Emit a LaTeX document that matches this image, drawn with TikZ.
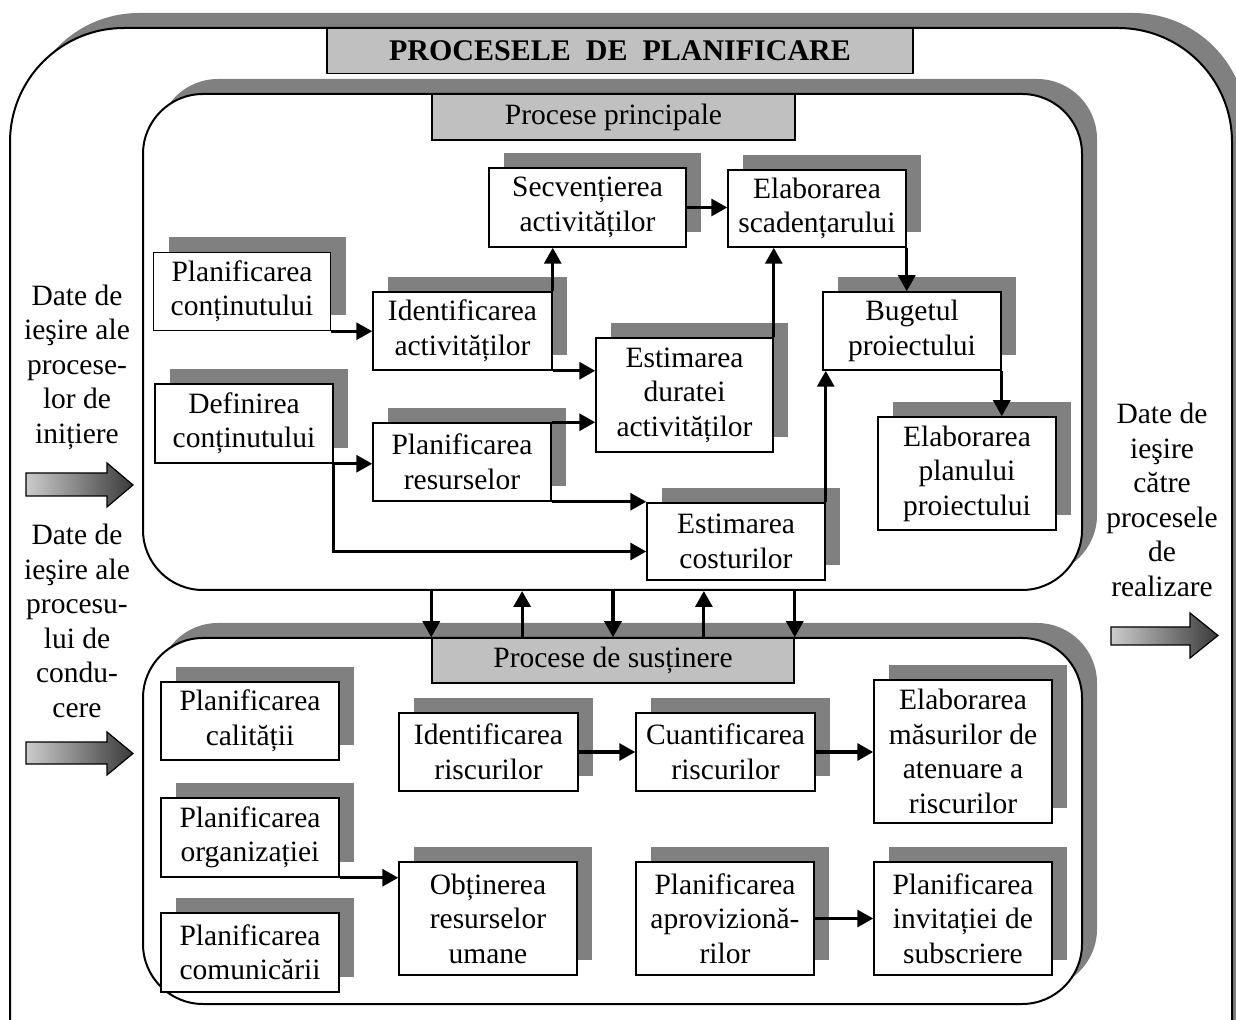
\documentclass[tikz,border=0pt]{standalone}
\usepackage{fontspec}
\setmainfont{Liberation Serif}
\usetikzlibrary{shadows,arrows.meta,calc}
\definecolor{shadowgray}{HTML}{808080}
\definecolor{tabgray}{HTML}{C0C0C0}
\definecolor{flowlight}{HTML}{CCCCCC}
\definecolor{flowdark}{HTML}{3A3A3A}

\begin{document}
\begin{tikzpicture}[x=0.5pt,y=-0.5pt,
  every node/.style={font=\fontsize{14.75}{17.25}\selectfont},
  boxshadow/.style={drop shadow={shadow xshift=7.5pt,shadow yshift=7.5pt,opacity=1,fill=shadowgray}},
  sz/.style 2 args={minimum width=#1*0.5pt,minimum height=#2*0.5pt},
  box/.style={draw,line width=0.75pt,fill=white,align=center,inner sep=0pt,boxshadow},
  panel/.style={draw,line width=1pt,fill=white,inner sep=0pt,boxshadow},
  tab/.style={draw,line width=0.75pt,fill=tabgray,inner sep=0pt},
  conn/.style={line width=1.6pt,-{Triangle[length=8pt,width=8.5pt]}},
  side/.style={align=center,inner sep=0pt},
  flow/.style={draw=black,line width=0.6pt,left color=flowlight,right color=flowdark}]

\clip (0,0) rectangle (1236,1020);

% outer frame and its title
\node[panel,rounded corners=57pt,sz={1222}{1112}] (outer) at (621,584) {};
\node[tab,sz={586}{45},font=\fontsize{15}{17.25}\selectfont\bfseries] (title) at (620,51) {PROCESELE\ \ DE\ \ PLANIFICARE};

% main processes panel
\node[panel,rounded corners=30pt,sz={939}{496}] (tp) at (612.5,342) {};
\node[tab,sz={363}{46}] (pp) at (613.5,117) {Procese principale};

% supporting processes panel
\node[panel,rounded corners=30pt,sz={939}{366}] (bpn) at (612.5,821) {};
\node[tab,sz={362}{45}] (sust) at (613,660.5) {Procese de susținere};

% main processes
\node[box,sz={177}{78}] (pc) at (242,291.5) {Planificarea\\conținutului};
\node[box,sz={178}{79}] (dc) at (244,423.5) {Definirea\\conținutului};
\node[box,sz={179}{78}] (ia) at (462.5,331) {Identificarea\\activităților};
\node[box,sz={197}{79}] (sa) at (587.5,207.5) {Secvențierea\\activităților};
\node[box,sz={178}{77}] (es) at (817,208.5) {Elaborarea\\scadențarului};
\node[box,sz={177}{114}] (ed) at (684.5,395) {Estimarea\\duratei\\activităților};
\node[box,sz={178}{78}] (pr) at (462,462) {Planificarea\\resurselor};
\node[box,sz={178}{78}] (bp) at (912,331) {Bugetul\\proiectului};
\node[box,sz={178}{113}] (ep) at (967,473.5) {Elaborarea\\planului\\proiectului};
\node[box,sz={178}{77}] (ec) at (736,541.5) {Estimarea\\costurilor};

% supporting processes
\node[box,sz={178}{78}] (pcal) at (250,721) {Planificarea\\calității};
\node[box,sz={178}{79}] (porg) at (250,837.5) {Planificarea\\organizației};
\node[box,sz={178}{79}] (pcom) at (250,952.5) {Planificarea\\comunicării};
\node[box,sz={179}{78}] (ir) at (488.5,752) {Identificarea\\riscurilor};
\node[box,sz={179}{78}] (cr) at (725.5,752) {Cuantificarea\\riscurilor};
\node[box,sz={178}{143}] (em) at (963,751.5) {Elaborarea\\măsurilor de\\atenuare a\\riscurilor};
\node[box,sz={178}{113}] (or) at (488,918.5) {Obținerea\\resurselor\\umane};
\node[box,sz={178}{113}] (pa) at (725,918.5) {Planificarea\\aprovizionă-\\rilor};
\node[box,sz={178}{113}] (pi) at (963,918.5) {Planificarea\\invitației de\\subscriere};

% links between main processes
\draw[conn] (pc.south east) -- (pc.south east -| ia.west);
\draw[conn] (ia.north east) -- (ia.north east |- sa.south);
\draw[conn] (ia.south east) -- (ia.south east -| ed.west);
\draw[conn] (sa.east) -- (sa.east -| es.west);
\draw[conn] (ed.north east) -- (ed.north east |- es.south);
\draw[conn] (es.south east) -- (es.south east |- bp.north);
\draw[conn] (bp.south east) -- (bp.south east |- ep.north);
\draw[conn] (dc.south east) -- (dc.south east -| pr.west);
\draw[conn] (dc.south east) |- ($(ec.west)+(0,10)$);
\draw[conn] (pr.north east) -- (pr.north east -| ed.west);
\draw[conn] (pr.south east) -- (pr.south east -| ec.west);
\draw[conn] (ec.north east) -- (ec.north east |- bp.south);

% links between supporting processes
\draw[conn] (ir.east) -- (cr.west);
\draw[conn] (cr.east) -- (cr.east -| em.west);
\draw[conn] (porg.south east) -- (porg.south east -| or.west);
\draw[conn] (pa.east) -- (pi.west);

% exchanges between the two panels
\coordinate (u1) at ($(sust.north west)!0.25!(sust.north east)$);
\coordinate (u2) at ($(sust.north west)!0.75!(sust.north east)$);
\draw[conn] (tp.south -| sust.west) -- (sust.north west);
\draw[conn] (tp.south -| sust.north) -- (sust.north);
\draw[conn] (tp.south -| sust.east) -- (sust.north east);
\draw[conn] (u1) -- (u1 |- tp.south);
\draw[conn] (u2) -- (u2 |- tp.south);

% inputs and outputs
\node[side] (inL) at (77,367) {Date de\\ieşire ale\\procese-\\lor de\\inițiere};
\node[side] (cdL) at (77,621) {Date de\\ieşire ale\\procesu-\\lui de\\condu-\\cere};
\node[side] (outR) at (1162,500) {Date de\\ieşire\\către\\procesele\\de\\realizare};

\shadedraw[flow] (26,473) -- (107,473) -- (107,463) -- (133,485) -- (107,507) -- (107,496) -- (26,496) -- cycle;
\shadedraw[flow] (26,742) -- (107,742) -- (107,732) -- (133,753.5) -- (107,775) -- (107,764) -- (26,764) -- cycle;
\shadedraw[flow] (1111,627) -- (1190,627) -- (1190,613) -- (1218,635.5) -- (1190,658) -- (1190,645) -- (1111,645) -- cycle;
\end{tikzpicture}
\end{document}
